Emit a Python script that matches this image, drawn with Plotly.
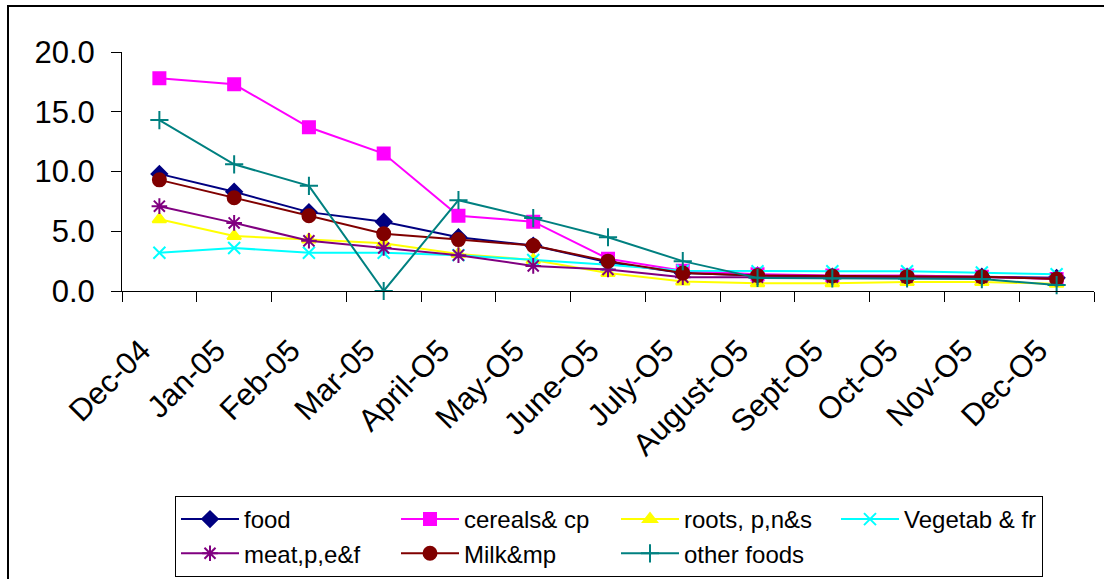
import plotly.graph_objects as go

months = ["Dec-04", "Jan-05", "Feb-05", "Mar-05", "April-O5", "May-O5", "June-O5",
          "July-O5", "August-O5", "Sept-O5", "Oct-O5", "Nov-O5", "Dec-O5"]

food = [9.8, 8.3, 6.6, 5.8, 4.5, 3.8, 2.4, 1.5, 1.3, 1.2, 1.2, 1.2, 1.1]
cereals = [17.8, 17.3, 13.7, 11.5, 6.3, 5.8, 2.7, 1.7, 1.4, 1.3, 1.3, 1.2, 1.0]
roots = [6.0, 4.6, 4.3, 4.0, 3.1, 2.6, 1.5, 0.8, 0.65, 0.65, 0.75, 0.75, 0.6]
vegetab = [3.2, 3.6, 3.2, 3.2, 3.0, 2.6, 2.2, 1.7, 1.65, 1.65, 1.65, 1.55, 1.4]
meat = [7.1, 5.7, 4.2, 3.6, 3.0, 2.1, 1.8, 1.15, 1.15, 1.15, 1.15, 1.15, 1.05]
milk = [9.3, 7.8, 6.3, 4.8, 4.3, 3.8, 2.5, 1.5, 1.3, 1.25, 1.2, 1.2, 1.0]
other = [14.3, 10.6, 8.8, 0.0, 7.6, 6.1, 4.5, 2.5, 1.1, 1.05, 1.05, 1.0, 0.5]

series = [
    ("food", food, "#000080", "diamond", 12),
    ("cereals& cp", cereals, "#FF00FF", "square", 12),
    ("roots, p,n&s", roots, "#FFFF00", "triangle-up", 12),
    ("Vegetab & fr", vegetab, "#00FFFF", "x-thin-open", 12),
    ("meat,p,e&f", meat, "#800080", "asterisk-open", 13),
    ("Milk&mp", milk, "#800000", "circle", 13),
    ("other foods", other, "#008080", "cross-thin-open", 13),
]

fig = go.Figure()
for name, vals, color, sym, size in series:
    fig.add_trace(go.Scatter(
        x=months, y=vals, name=name, mode="lines+markers",
        line=dict(color=color, width=2),
        marker=dict(symbol=sym, size=size, color=color,
                    line=dict(color=color, width=2)),
        cliponaxis=False,
        legendwidth=133 if name == "Vegetab & fr" else None,
    ))

L, R, T, B = 122, 1094, 52, 291
W, H = 1104, 579
pw, ph = R - L, B - T

def px(x):
    return (x - L) / pw

def py(y):
    return (B - y) / ph

fig.update_layout(
    width=W, height=H,
    margin=dict(l=L, r=W - R, t=T, b=H - B, pad=0, autoexpand=False),
    paper_bgcolor="white", plot_bgcolor="white",
    font=dict(family="Liberation Sans, Arial, sans-serif", color="black"),
    showlegend=True,
    legend=dict(
        orientation="h", x=px(175), y=1 - 496 / H, yref="container",
        xanchor="left", yanchor="top",
        bordercolor="black", borderwidth=1, bgcolor="white",
        font=dict(size=24, color="black"),
        itemwidth=58, entrywidth=147, entrywidthmode="pixels",
        tracegroupgap=0, traceorder="normal",
    ),
    xaxis=dict(
        type="category", tickson="boundaries", ticks="outside", ticklen=10,
        tickcolor="black", showline=True, linecolor="black", linewidth=1,
        showgrid=False, zeroline=False, tickangle=-45, automargin=False,
        tickfont=dict(size=31, color="black"),
        ticklabelstandoff=28, ticklabelshift=-18,
        range=[-0.5, 12.5],
    ),
    yaxis=dict(
        range=[0, 20], dtick=5, tickformat=".1f", ticks="outside", ticklen=10,
        tickcolor="black", showline=True, linecolor="black", linewidth=1,
        showgrid=False, zeroline=False, automargin=False,
        tickfont=dict(size=31, color="black"),
        ticklabelstandoff=10,
    ),
    shapes=[dict(
        type="rect", xref="paper", yref="paper",
        x0=px(8), x1=px(1112), y0=py(590), y1=py(6),
        line=dict(color="black", width=2), layer="below",
    )],
)

fig.write_html("out.html")
